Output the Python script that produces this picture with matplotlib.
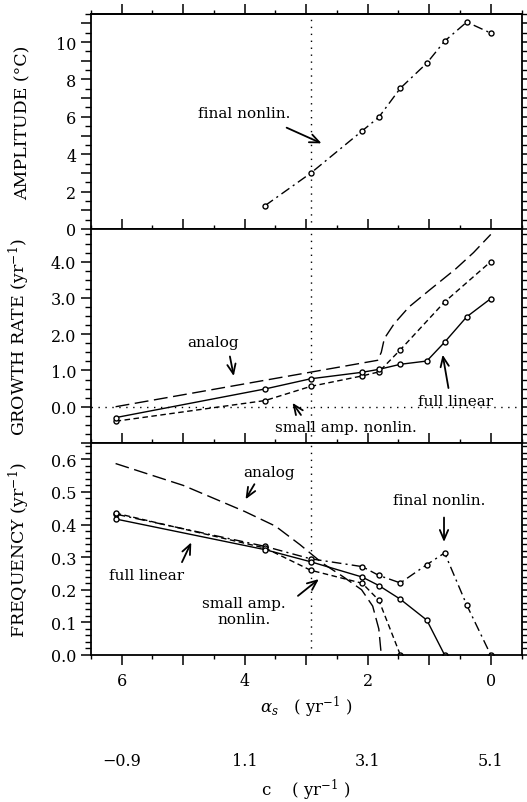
import matplotlib
matplotlib.use("Agg")
import matplotlib.pyplot as plt
import matplotlib.ticker as mticker

plt.rcParams["font.family"] = ["DejaVu Serif"]
plt.rcParams["mathtext.fontset"] = "dejavuserif"

# ── data ─────────────────────────────────────────────────────────────────────
alpha_all = [6.1, 3.67, 2.93, 2.09, 1.82, 1.47, 1.04, 0.75, 0.39, 0.0]

amp_alpha = [3.67, 2.93, 2.09, 1.82, 1.47, 1.04, 0.75, 0.39, 0.0]
amp_final = [1.25, 2.98, 5.25, 5.98, 7.53, 8.87, 10.05, 11.07, 10.48]

gr_full = [-0.30, 0.49, 0.77, 0.95, 1.03, 1.17, 1.26, 1.78, 2.48, 2.98]
gr_small_alpha = [6.1, 3.67, 2.93, 2.09, 1.82, 1.47, 0.75, 0.0]
gr_small = [-0.40, 0.17, 0.56, 0.85, 0.96, 1.57, 2.89, 4.0]
gr_analog_alpha = [6.1, 1.84, 1.78, 1.73, 1.57, 1.33, 1.00, 0.57, 0.28, 0.0]
gr_analog = [0.0, 1.28, 1.50, 1.88, 2.29, 2.75, 3.21, 3.80, 4.25, 4.75]

fr_full_alpha = [6.1, 3.67, 2.93, 2.09, 1.82, 1.47, 1.04, 0.75]
fr_full = [0.417, 0.323, 0.286, 0.239, 0.213, 0.171, 0.107, 0.0]
fr_small_alpha = [6.1, 3.67, 2.93, 2.09, 1.82, 1.47]
fr_small = [0.435, 0.328, 0.260, 0.220, 0.168, 0.0]
fr_final = [0.432, 0.333, 0.295, 0.271, 0.244, 0.221, 0.277, 0.313, 0.153, 0.0]
fr_analog_alpha = [6.1, 5.0, 4.0, 3.5, 3.1, 2.74, 2.4, 2.1, 1.92, 1.82, 1.78]
fr_analog = [0.587, 0.52, 0.44, 0.395, 0.338, 0.282, 0.240, 0.200, 0.150, 0.08, 0.0]

ALPHA_MARK = 2.93
c_ticks = [-0.9, 1.1, 3.1, 5.1]

# ── styles ───────────────────────────────────────────────────────────────────
K = "black"
mk = dict(marker="o", ms=3.6, mfc="white", mec=K, mew=1.0)
LS_FULL = "-"
LS_SMALL = (0, (4, 2.5))
LS_ANALOG = (0, (10, 4))
LS_FINAL = (0, (7, 3, 1.5, 3))
LW = 1.0
arrow = dict(arrowstyle="->,head_length=0.7,head_width=0.3", lw=1.3, color=K)

fig = plt.figure(figsize=(5.27, 8.03), dpi=100)
L, W = 91 / 527, 430.5 / 527
ax1 = fig.add_axes([L, 1 - 230 / 803, W, 215 / 803])
ax2 = fig.add_axes([L, 1 - 444 / 803, W, 214 / 803])
ax3 = fig.add_axes([L, 1 - 656 / 803, W, 212 / 803])


def even_only(v, pos):
    return f"{v:.0f}" if abs(v / 2 - round(v / 2)) < 1e-6 else ""


def growth_fmt(v, pos):
    return f"{v:.1f}" if v > -0.5 else ""


for ax in (ax1, ax2, ax3):
    ax.set_xlim(6.5, -0.5)
    ax.xaxis.set_major_locator(mticker.MultipleLocator(1))
    ax.xaxis.set_minor_locator(mticker.MultipleLocator(0.5))
    for s in ax.spines.values():
        s.set_linewidth(1.3)
    ax.tick_params(axis="y", which="major", direction="out", length=7, width=1.1,
                   labelsize=11.5, right=True)
    ax.tick_params(axis="y", which="minor", direction="out", length=4, width=1.0, right=True)
    ax.axvline(ALPHA_MARK, color=K, ls=(0, (1, 4)), lw=1.0)
    ax.tick_params(axis="x", which="both", top=False)

# x tick directions per panel
ax1.tick_params(axis="x", which="major", direction="in", length=7, width=1.1,
                labelbottom=False)
ax1.tick_params(axis="x", which="minor", direction="in", length=3, width=1.0)
top = ax1.secondary_xaxis("top")
top.xaxis.set_major_locator(mticker.MultipleLocator(1))
top.xaxis.set_minor_locator(mticker.MultipleLocator(0.5))
top.tick_params(axis="x", which="major", direction="out", length=7, width=1.1, labeltop=False)
top.tick_params(axis="x", which="minor", direction="out", length=3, width=1.0)
top.spines["top"].set_linewidth(1.3)

ax2.tick_params(axis="x", which="major", direction="in", length=7, width=1.1,
                labelbottom=False)
ax2.tick_params(axis="x", which="minor", direction="in", length=3, width=1.0)
ax3.tick_params(axis="x", which="major", direction="out", length=7, width=1.1,
                labelsize=11.5, pad=5)
ax3.tick_params(axis="x", which="minor", direction="out", length=3, width=1.0)
ax3.xaxis.set_major_formatter(mticker.FuncFormatter(even_only))

# ── amplitude ────────────────────────────────────────────────────────────────
ax1.plot(amp_alpha, amp_final, color=K, ls=LS_FINAL, lw=LW, **mk)
ax1.set_ylim(0, 11.5)
ax1.yaxis.set_major_locator(mticker.MultipleLocator(1))
ax1.yaxis.set_minor_locator(mticker.MultipleLocator(0.5))
ax1.yaxis.set_major_formatter(mticker.FuncFormatter(even_only))
ax1.set_ylabel("AMPLITUDE (°C)", fontsize=12.5)
ax1.text(4.01, 6.18, "final nonlin.", fontsize=11, ha="center", va="center")
ax1.annotate("", xy=(2.71, 4.52), xytext=(3.36, 5.48), arrowprops=arrow)

# ── growth rate ──────────────────────────────────────────────────────────────
ax2.axhline(0, color=K, ls=(0, (1, 4)), lw=1.0)
ax2.plot(gr_analog_alpha, gr_analog, color=K, ls=LS_ANALOG, lw=LW)
ax2.plot(gr_small_alpha, gr_small, color=K, ls=LS_SMALL, lw=LW, **mk)
ax2.plot(alpha_all, gr_full, color=K, ls=LS_FULL, lw=LW, **mk)
ax2.set_ylim(-1.0, 4.9)
ax2.yaxis.set_major_locator(mticker.MultipleLocator(1))
ax2.yaxis.set_minor_locator(mticker.MultipleLocator(0.25))
ax2.yaxis.set_major_formatter(mticker.FuncFormatter(growth_fmt))
ax2.set_ylabel("GROWTH RATE (yr$^{-1}$)", fontsize=12.5)
ax2.text(4.52, 1.78, "analog", fontsize=11, ha="center", va="center")
ax2.annotate("", xy=(4.17, 0.77), xytext=(4.25, 1.46), arrowprops=arrow)
ax2.text(0.57, 0.17, "full linear", fontsize=11, ha="center", va="center")
ax2.annotate("", xy=(0.79, 1.51), xytext=(0.68, 0.44), arrowprops=arrow)
ax2.text(2.36, -0.57, "small amp. nonlin.", fontsize=11, ha="center", va="center")
ax2.annotate("", xy=(3.25, 0.17), xytext=(3.06, -0.29), arrowprops=arrow)

# ── frequency ────────────────────────────────────────────────────────────────
ax3.plot(fr_analog_alpha, fr_analog, color=K, ls=LS_ANALOG, lw=LW)
ax3.plot(alpha_all, fr_final, color=K, ls=LS_FINAL, lw=LW, **mk)
ax3.plot(fr_small_alpha, fr_small, color=K, ls=LS_SMALL, lw=LW, **mk)
ax3.plot(fr_full_alpha, fr_full, color=K, ls=LS_FULL, lw=LW, **mk)
ax3.set_ylim(0, 0.65)
ax3.yaxis.set_major_locator(mticker.MultipleLocator(0.1))
ax3.yaxis.set_minor_locator(mticker.MultipleLocator(0.02))
ax3.yaxis.set_major_formatter(mticker.FormatStrFormatter("%.1f"))
ax3.set_ylabel("FREQUENCY (yr$^{-1}$)", fontsize=12.5)
ax3.text(3.60, 0.561, "analog", fontsize=11, ha="center", va="center")
ax3.annotate("", xy=(4.01, 0.470), xytext=(3.82, 0.531), arrowprops=arrow)
ax3.text(0.84, 0.475, "final nonlin.", fontsize=11, ha="center", va="center")
ax3.annotate("", xy=(0.76, 0.338), xytext=(0.76, 0.43), arrowprops=arrow)
ax3.text(5.60, 0.244, "full linear", fontsize=11, ha="center", va="center")
ax3.annotate("", xy=(4.85, 0.353), xytext=(5.04, 0.277), arrowprops=arrow)
ax3.text(4.01, 0.135, "small amp.\nnonlin.", fontsize=11, ha="center", va="center",
         linespacing=1.1)
ax3.annotate("", xy=(2.76, 0.238), xytext=(3.17, 0.176), arrowprops=arrow)
ax3.set_xlabel(r"$\alpha_s$   ( yr$^{-1}$ )", fontsize=12, labelpad=4)

for ax in (ax1, ax2, ax3):
    ax.yaxis.set_label_coords(-0.138, 0.5)

# second scale: c = 5.1 - alpha_s
sec = ax3.secondary_xaxis(-0.43, functions=(lambda a: 5.1 - a, lambda c: 5.1 - c))
sec.set_xticks(c_ticks)
sec.xaxis.set_major_formatter(mticker.FuncFormatter(lambda v, p: f"{v:.1f}".replace("-", "\u2212")))
sec.tick_params(axis="x", length=0, labelsize=11.5, pad=4)
sec.spines["bottom"].set_visible(False)
sec.set_xlabel("c    ( yr$^{-1}$ )", fontsize=12, labelpad=6)

fig.savefig("out.png", dpi=100)
